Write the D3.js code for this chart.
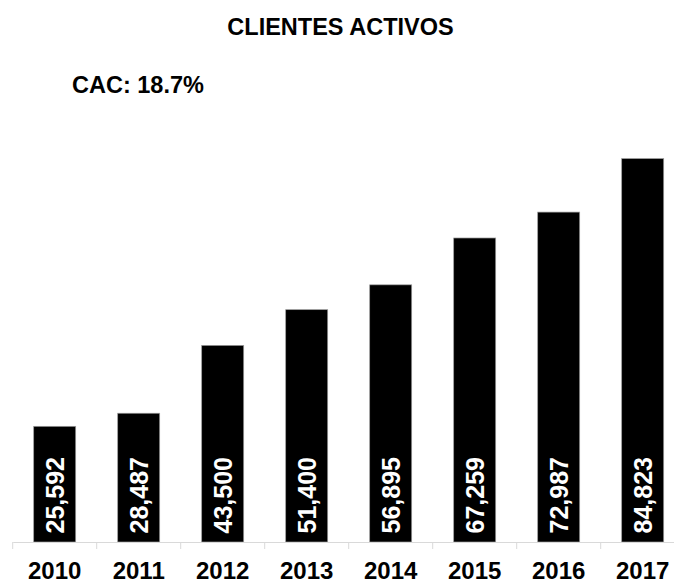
<!DOCTYPE html>
<html>
<head>
<meta charset="utf-8">
<script src="https://cdn.jsdelivr.net/npm/d3@7"></script>
<style>
  body { margin: 0; background: #fff; }
  text { font-family: "Liberation Sans", Arial, sans-serif; font-weight: bold; }
</style>
</head>
<body>
<svg width="674" height="581"></svg>
<script>
var years = ["2010", "2011", "2012", "2013", "2014", "2015", "2016", "2017"];
var clientes = [25592, 28487, 43500, 51400, 56895, 67259, 72987, 84823];
var title = "CLIENTES ACTIVOS";
var subtitle = "CAC: 18.7%";

var svg = d3.select("svg"),
  width = +svg.attr("width"),
  height = +svg.attr("height");

var base = 542;

var x = d3.scaleBand()
  .domain(years)
  .range([12.7, 684.7])
  .paddingInner(0.5)
  .paddingOuter(0.25);

var y = d3.scaleLinear()
  .domain([0, 90000])
  .range([base, base - 90000 * 0.00452]);

var data = years.map(function (d, i) { return { year: d, value: clientes[i] }; });

svg.append("text")
  .attr("x", 340.5)
  .attr("y", 34.5)
  .attr("text-anchor", "middle")
  .style("font-size", "23.5px")
  .text(title);

svg.append("text")
  .attr("x", 72)
  .attr("y", 93)
  .style("font-size", "23.5px")
  .text(subtitle);

// bars
svg.append("g")
  .selectAll("rect")
  .data(data)
  .enter()
  .append("rect")
  .attr("x", function (d) { return x(d.year); })
  .attr("y", function (d) { return y(d.value); })
  .attr("width", x.bandwidth())
  .attr("height", function (d) { return base - y(d.value); })
  .attr("fill", "#000")
  .attr("stroke", "#9a9a9a")
  .attr("stroke-width", 0.7);

// value labels, vertical inside bars
svg.append("g")
  .selectAll("text")
  .data(data)
  .enter()
  .append("text")
  .attr("transform", function (d) {
    return "translate(" + (x(d.year) + x.bandwidth() / 2) + "," + (base - 8.5) + ") rotate(-90)";
  })
  .attr("dy", "0.36em")
  .attr("fill", "#fff")
  .style("font-size", "25px")
  .text(function (d) { return d3.format(",")(d.value); });

// axis with ticks between categories
var axis = svg.append("g")
  .attr("transform", "translate(0," + base + ")")
  .call(d3.axisBottom(x).tickSize(0).tickPadding(20));

axis.select(".domain").attr("stroke", "#d9d9d9");
axis.selectAll("text")
  .attr("fill", "#000")
  .style("font-size", "24px")
  .style("font-family", "'Liberation Sans', Arial, sans-serif")
  .style("font-weight", "bold");

var bounds = years.map(function (d) { return x(d) - x.step() * x.paddingInner() / 2; });
bounds.push(bounds[bounds.length - 1] + x.step());

axis.selectAll(".sep")
  .data(bounds)
  .enter()
  .append("line")
  .attr("class", "sep")
  .attr("x1", function (d) { return d; })
  .attr("x2", function (d) { return d; })
  .attr("y1", 0)
  .attr("y2", 7)
  .attr("stroke", "#d9d9d9");
</script>
</body>
</html>
